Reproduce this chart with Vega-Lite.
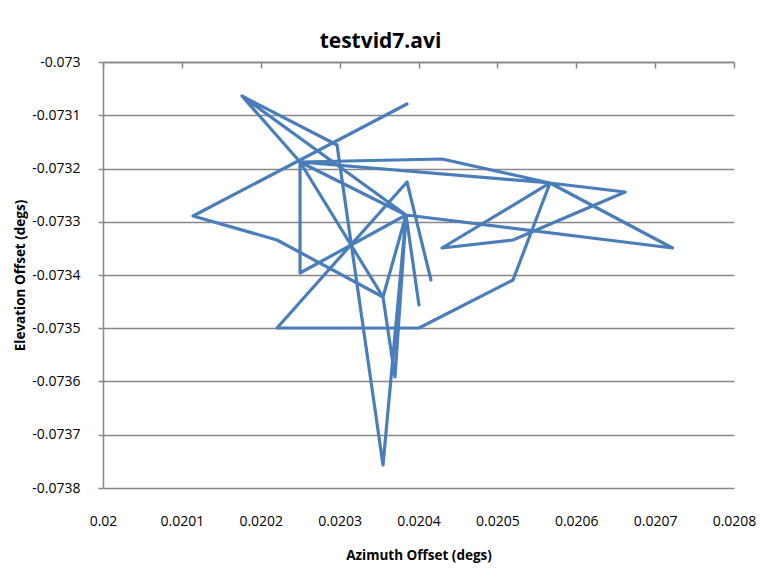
{
  "$schema": "https://vega.github.io/schema/vega-lite/v6.json",
  "width": 631,
  "height": 426,
  "autosize": {"type": "none"},
  "padding": {"left": 103, "top": 62, "right": 31, "bottom": 92},
  "background": "white",
  "title": {"text": "testvid7.avi", "font": "Open Sans", "fontSize": 21, "fontWeight": "bold", "color": "#000000", "offset": 3, "dx": -38},
  "config": {"view": {"stroke": null}},
  "data": {"values": [
    {"i": 1, "az": 0.0203854, "el": -0.0730789},
    {"i": 2, "az": 0.0201141, "el": -0.0732892},
    {"i": 3, "az": 0.0202206, "el": -0.0733343},
    {"i": 4, "az": 0.020355, "el": -0.0734413},
    {"i": 5, "az": 0.0202498, "el": -0.0731878},
    {"i": 6, "az": 0.0201762, "el": -0.0730639},
    {"i": 7, "az": 0.0202967, "el": -0.0731559},
    {"i": 8, "az": 0.020355, "el": -0.0737568},
    {"i": 9, "az": 0.0203842, "el": -0.0732873},
    {"i": 10, "az": 0.0203702, "el": -0.0735915},
    {"i": 11, "az": 0.020355, "el": -0.0734413},
    {"i": 12, "az": 0.0203842, "el": -0.0732873},
    {"i": 13, "az": 0.0204006, "el": -0.0734563},
    {"i": 14, "az": 0.0203842, "el": -0.0732873},
    {"i": 15, "az": 0.0201762, "el": -0.0730639},
    {"i": 16, "az": 0.0202498, "el": -0.0731878},
    {"i": 17, "az": 0.0202498, "el": -0.0733962},
    {"i": 18, "az": 0.0203842, "el": -0.0732873},
    {"i": 19, "az": 0.0202498, "el": -0.0731878},
    {"i": 20, "az": 0.0204298, "el": -0.0731822},
    {"i": 21, "az": 0.0205667, "el": -0.0732272},
    {"i": 22, "az": 0.020722, "el": -0.0733493},
    {"i": 23, "az": 0.0203842, "el": -0.0732873},
    {"i": 24, "az": 0.0202498, "el": -0.0731878},
    {"i": 25, "az": 0.0205667, "el": -0.0732272},
    {"i": 26, "az": 0.020662, "el": -0.0732441},
    {"i": 27, "az": 0.0205198, "el": -0.0733343},
    {"i": 28, "az": 0.0204298, "el": -0.0733493},
    {"i": 29, "az": 0.0205667, "el": -0.0732272},
    {"i": 30, "az": 0.0205198, "el": -0.0734094},
    {"i": 31, "az": 0.0204006, "el": -0.0734995},
    {"i": 32, "az": 0.0202206, "el": -0.0734995},
    {"i": 33, "az": 0.0203854, "el": -0.0732253},
    {"i": 34, "az": 0.0204158, "el": -0.0734094}
  ]},
  "layer": [
    {
      "mark": {"type": "line", "color": "#4A7EBB", "strokeWidth": 3.2, "strokeJoin": "round", "strokeCap": "round"},
      "encoding": {
        "order": {"field": "i", "type": "quantitative"},
        "x": {"field": "az", "type": "quantitative",
          "scale": {"domain": [0.02, 0.0208], "nice": false, "zero": false},
          "axis": {"orient": "bottom", "values": [0.02, 0.0201, 0.0202, 0.0203, 0.0204, 0.0205, 0.0206, 0.0207, 0.0208],
            "format": ".4~f", "grid": false, "domain": false, "ticks": false, "labelFlush": false,
            "labelFont": "Open Sans", "labelFontSize": 14, "labelColor": "#000000", "labelPadding": 26,
            "title": "Azimuth Offset (degs)", "titleFont": "Open Sans", "titleFontSize": 13.5, "titleFontWeight": "bold", "titleColor": "#000000", "titlePadding": 20}},
        "y": {"field": "el", "type": "quantitative",
          "scale": {"domain": [-0.0738, -0.073], "nice": false, "zero": false},
          "axis": {"values": [-0.073, -0.0731, -0.0732, -0.0733, -0.0734, -0.0735, -0.0736, -0.0737, -0.0738],
            "labelExpr": "datum.value < 0 ? '-' + format(-datum.value, '.4~f') : format(datum.value, '.4~f')",
            "grid": true, "gridColor": "#878787", "gridWidth": 1.5,
            "domain": true, "domainColor": "#878787", "domainWidth": 1.5,
            "ticks": true, "tickColor": "#878787", "tickWidth": 1.5, "tickSize": 5,
            "labelFont": "Open Sans", "labelFontSize": 14, "labelColor": "#000000", "labelPadding": 18, "labelFlush": false,
            "title": "Elevation Offset (degs)", "titleFont": "Open Sans", "titleFontSize": 13.5, "titleFontWeight": "bold", "titleColor": "#000000", "titlePadding": 4}}
      }
    },
    {
      "mark": {"type": "line", "opacity": 0},
      "encoding": {
        "order": {"field": "i", "type": "quantitative"},
        "x": {"field": "az", "type": "quantitative",
          "axis": {"orient": "bottom", "offset": -426, "values": [0.02, 0.0201, 0.0202, 0.0203, 0.0204, 0.0205, 0.0206, 0.0207, 0.0208],
            "labels": false, "grid": false, "domain": true, "domainColor": "#878787", "domainWidth": 1.5,
            "ticks": true, "tickColor": "#878787", "tickWidth": 1.5, "tickSize": 6, "title": null}},
        "y": {"field": "el", "type": "quantitative", "axis": null}
      }
    }
  ],
  "resolve": {"axis": {"x": "independent", "y": "independent"}}
}
